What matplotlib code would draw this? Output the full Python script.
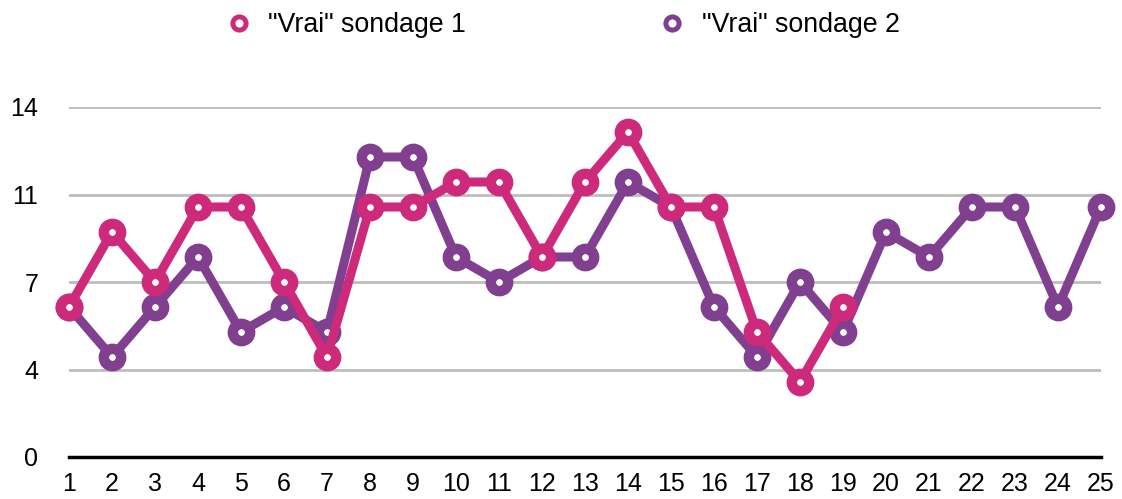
import matplotlib
matplotlib.use("Agg")
import matplotlib.pyplot as plt
from matplotlib.lines import Line2D

x_labels = [str(i) for i in range(1, 26)]
x1 = list(range(1, 20))
s1 = [6, 9, 7, 10, 10, 7, 4, 10, 10, 11, 11, 8, 11, 13, 10, 10, 5, 3, 6]
x2 = list(range(1, 26))
s2 = [6, 4, 6, 8, 5, 6, 5, 12, 12, 8, 7, 8, 8, 11, 10, 6, 4, 7, 5, 9, 8, 10, 10, 6, 10]
y_ticks = [0, 3.5, 7, 10.5, 14]
y_tick_labels = ["0", "4", "7", "11", "14"]
names = ['"Vrai" sondage 1', '"Vrai" sondage 2']
colors = ["#CE2A7C", "#803F8F"]

plt.rcParams['font.family'] = ['Liberation Sans', 'DejaVu Sans']

fig = plt.figure(figsize=(11.22, 4.99), dpi=100)
ax = fig.add_axes([69/1122, 42/499, (1101-69)/1122, (457-107)/499])

common = dict(linewidth=6.5, marker='o', markersize=12.5, markerfacecolor='white',
              markeredgewidth=7.5, clip_on=False, solid_joinstyle='round', solid_capstyle='round')
ax.plot(x2, s2, color=colors[1], label=names[1], zorder=3, **common)
ax.plot(x1, s1, color=colors[0], label=names[0], zorder=4, **common)

ax.set_xlim(1, 25)
ax.set_ylim(0, 14)
ax.set_yticks(y_ticks)
ax.set_yticklabels(y_tick_labels)
ax.set_xticks(range(1, 26))
ax.set_xticklabels(x_labels)
ax.tick_params(axis='y', length=0, pad=22, labelsize=18)
ax.tick_params(axis='x', length=0, pad=11, labelsize=18)

for v in y_ticks[1:]:
    ax.axhline(v, color='#BDBDBD', linewidth=2, zorder=1)
for s in ['top', 'right', 'left']:
    ax.spines[s].set_visible(False)
ax.spines['bottom'].set_linewidth(2.5)
ax.spines['bottom'].set_color('black')
ax.spines['bottom'].set_zorder(2)

h1 = Line2D([], [], color=colors[0], marker='o', linestyle='none', markersize=9.5,
            markerfacecolor='white', markeredgewidth=3.6)
h2 = Line2D([], [], color=colors[1], marker='o', linestyle='none', markersize=9.5,
            markerfacecolor='white', markeredgewidth=3.6)
fig.legend([h1, h2], names, loc='center', bbox_to_anchor=(0.5, 1 - 25/499), ncol=2,
           frameon=False, fontsize=19.3, columnspacing=7.1, handletextpad=0.5, handlelength=1.2)

fig.savefig("out.png", dpi=100)
